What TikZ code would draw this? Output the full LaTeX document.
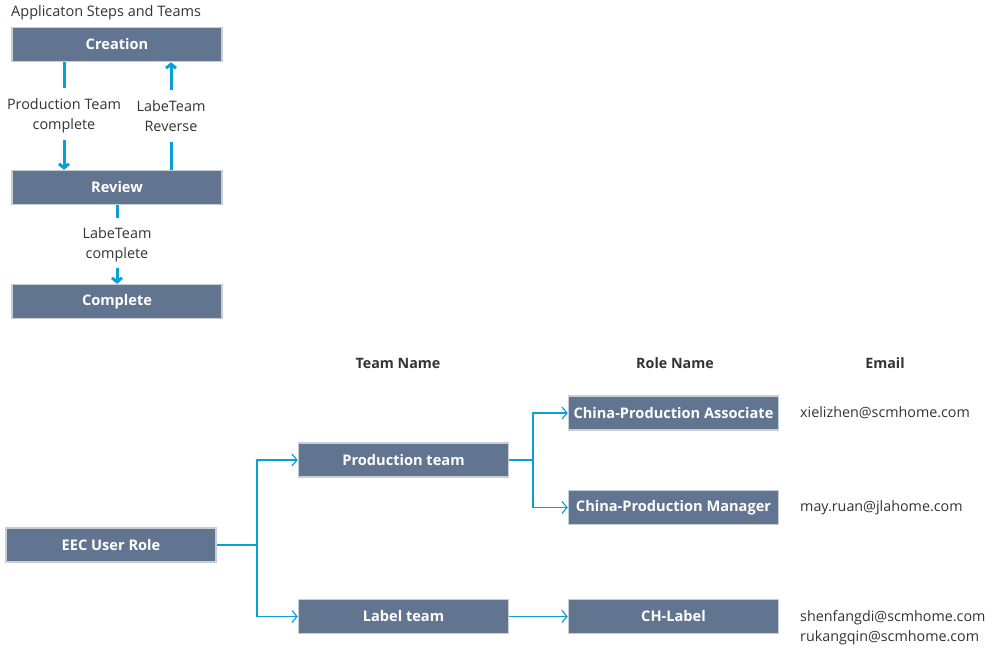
\documentclass[tikz,border=0pt]{standalone}
\usepackage{fontspec}
\setmainfont{Open Sans}
\usetikzlibrary{arrows.meta}
\definecolor{boxfill}{HTML}{627590}
\definecolor{boxline}{HTML}{C9CED4}
\definecolor{lineblue}{HTML}{0A9FD6}
\definecolor{txt}{HTML}{333333}
\tikzset{
  box/.style={draw=boxline, line width=1.5pt, fill=boxfill, text=white, font=\fontsize{14.6}{17}\selectfont\bfseries, inner sep=0pt, minimum width=210pt, minimum height=34pt},
  lbl/.style={text=txt, font=\fontsize{14.4}{20}\selectfont, align=center, inner sep=0pt},
  hdr/.style={text=txt, font=\fontsize{14.3}{17}\selectfont\bfseries, inner sep=0pt},
  mail/.style={text=txt, font=\fontsize{14.3}{19.5}\selectfont, align=left, anchor=west, inner sep=0pt},
  thick arrow/.style={draw=lineblue, line width=3pt, -{Straight Barb[length=4pt,width=10pt]}},
  thick seg/.style={draw=lineblue, line width=3pt},
  thin arrow/.style={draw=lineblue, line width=1.2pt, -{Straight Barb[length=5pt,width=12pt,line width=1.2pt]}},
  thin seg/.style={draw=lineblue, line width=1.2pt}
}
\begin{document}
\begin{tikzpicture}[x=1pt,y=-1pt]
\useasboundingbox (0,0) rectangle (987,649);
% title
\node[text=txt, font=\fontsize{14.5}{17}\selectfont, anchor=west, inner sep=0pt] (title) at (11,13) {Applicaton Steps and Teams};
% step boxes
\node[box] (creation) at (117,44.5) {Creation};
\node[box] (review) at (117,187.5) {Review};
\node[box] (complete) at (117,301.5) {Complete};
% labels
\node[lbl] (l1) at (64,115.5) {Production Team\\complete};
\node[lbl] (l2) at (171,116.5) {LabeTeam\\Reverse};
\node[lbl] (l3) at (117,244.5) {LabeTeam\\complete};
% connectors top
\coordinate (a0e) at (64,88);
\draw[thick seg] (creation.south -| l1) -- (a0e);
\coordinate (a1s) at (64,140);
\draw[thick arrow] (a1s) -- (review.north -| l1);
\coordinate (b1s) at (171,90);
\draw[thick arrow] (b1s) -- (creation.south -| l2);
\coordinate (b0s) at (171,142);
\draw[thick seg] (b0s) -- (review.north -| l2);
\coordinate (c0e) at (117,218);
\draw[thick seg] (review.south) -- (c0e);
\coordinate (c1s) at (117,268);
\draw[thick arrow] (c1s) -- (complete.north);
% headers
\node[hdr] (h1) at (398,363) {Team Name};
\node[hdr] (h2) at (675,363) {Role Name};
\node[hdr] (h3) at (885,363) {Email};
% tree boxes
\node[box] (eec) at (111,545) {EEC User Role};
\node[box] (prod) at (403.5,460) {Production team};
\node[box] (label) at (403.5,616.5) {Label team};
\node[box] (assoc) at (673.5,413) {China-Production Associate};
\node[box] (mgr) at (673.5,507.5) {China-Production Manager};
\node[box] (chl) at (673.5,616.5) {CH-Label};
% emails
\node[mail] (e1) at (800,413) {xielizhen@scmhome.com};
\node[mail] (e2) at (800,507.5) {may.ruan@jlahome.com};
\node[mail] (e3) at (800,627.5) {shenfangdi@scmhome.com\\rukangqin@scmhome.com};
% tree connectors
\coordinate (j1) at (257,545);
\draw[thin seg] (eec.east) -- (j1);
\draw[thin arrow] (j1) |- (prod.west);
\draw[thin arrow] (j1) |- (label.west);
\coordinate (j2) at (533,460);
\draw[thin seg] (prod.east) -- (j2);
\draw[thin arrow] (j2) |- (assoc.west);
\draw[thin arrow] (j2) |- (mgr.west);
\draw[thin arrow] (label.east) -- (chl.west);
\end{tikzpicture}
\end{document}
